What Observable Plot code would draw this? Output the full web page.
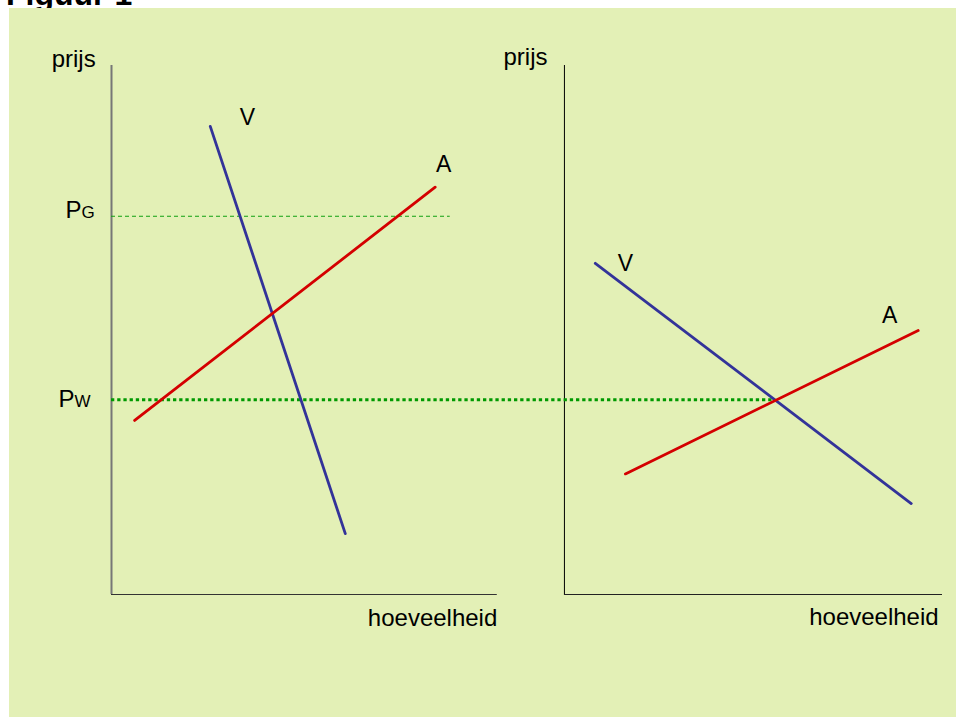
<!DOCTYPE html>
<html>
<head>
<meta charset="utf-8">
<script src="https://cdn.jsdelivr.net/npm/d3@7"></script>
<script src="https://cdn.jsdelivr.net/npm/@observablehq/plot@0.6"></script>
<style>
  html, body { margin: 0; padding: 0; background: #ffffff; }
  body { position: relative; width: 956px; height: 717px; overflow: hidden; font-family: "Liberation Sans", Arial, sans-serif; }
  #title { position: absolute; left: 6px; top: -22px; margin: 0; font-weight: bold; font-size: 32px; line-height: 32px; color: #000; white-space: nowrap; }
  #panel { position: absolute; left: 9px; top: 8px; right: 0; bottom: 0; background: #e3f0b6; }
  #chart { position: absolute; left: 0; top: 0; }
</style>
</head>
<body>
<div id="title">Figuur 1</div>
<div id="panel"></div>
<div id="chart"></div>
<script>
// ---- data (schematic units: quantity 0..100, price 0..100) ----
const panels = ["links", "rechts"];
const vraagLinks   = [[25.6, 88.5], [60.6, 11.5]];   // V, left diagram
const aanbodLinks  = [[6.0, 32.9], [83.9, 77.0]];    // A, left diagram
const vraagRechts  = [[8.0, 62.6], [89.9, 17.2]];    // V, right diagram
const aanbodRechts = [[15.8, 22.8], [91.7, 49.9]];   // A, right diagram
const prijsG = 71.5;          // PG
const prijsW = 36.8;          // PW
const pgEindeLinks = 87.8;    // end of PG line (left diagram quantity)
const pwEindeRechts = 54.1;   // end of PW line (right diagram quantity, intersection)
const curveLabels = [
  {panel: "links",  text: "V", q: 35.2, p: 88.7},
  {panel: "links",  text: "A", q: 86.1, p: 79.8},
  {panel: "rechts", text: "V", q: 15.8, p: 61.2},
  {panel: "rechts", text: "A", q: 84.3, p: 51.3}
];
const axisTitlesY = [
  {panel: "links",  text: "prijs", q: -9.8,  p: 99.8},
  {panel: "rechts", text: "prijs", q: -10.1, p: 100.1}
];
const axisTitlesX = [
  {panel: "links",  text: "hoeveelheid", q: 100.0, p: -5.9},
  {panel: "rechts", text: "hoeveelheid", q: 97.0,  p: -5.7}
];
const priceTickMain = [
  {text: "P", p: 71.2},
  {text: "P", p: 35.4}
];
const priceTickSub = [
  {text: "G", p: 71.2},
  {text: "W", p: 35.4}
];

// ---- layout ----
const offset = {links: 0, rechts: 117.4};
const axisLen = {links: 100, rechts: 98};
const tickMainDx = [-46, -53];
const tickSubDx = [-30, -37];
const font = "Liberation Sans, Arial, sans-serif";
const blue = "#333399", red = "#d40000";

const X = (panel) => (d) => offset[panel] + d[0];

const chart = Plot.plot({
  width: 956,
  height: 717,
  marginLeft: 111,
  marginRight: 14,
  marginTop: 65,
  marginBottom: 123,
  x: {domain: [0, offset.rechts + axisLen.rechts], axis: null},
  y: {domain: [0, 100], axis: null},
  style: {background: "transparent", overflow: "visible", fontFamily: font},
  marks: [
    // axes
    Plot.ruleX([offset.links], {y1: 0, y2: 100, stroke: "#777777", strokeWidth: 2}),
    Plot.ruleY([0], {x1: offset.links, x2: offset.links + axisLen.links, stroke: "#333333", strokeWidth: 1}),
    Plot.ruleX([offset.rechts], {y1: 0, y2: 100, stroke: "#000000", strokeWidth: 1}),
    Plot.ruleY([0], {x1: offset.rechts, x2: offset.rechts + axisLen.rechts, stroke: "#222222", strokeWidth: 1}),
    // price levels
    Plot.ruleY([prijsG], {x1: offset.links, x2: offset.links + pgEindeLinks, stroke: "#11a011", strokeWidth: 1, strokeDasharray: "4,3"}),
    Plot.ruleY([prijsW], {x1: offset.links, x2: offset.rechts + pwEindeRechts, stroke: "#009900", strokeWidth: 3, strokeDasharray: "3.3,2.9"}),
    // curves
    Plot.line(vraagLinks,   {x: X("links"),  y: d => d[1], stroke: blue, strokeWidth: 2.8}),
    Plot.line(aanbodLinks,  {x: X("links"),  y: d => d[1], stroke: red,  strokeWidth: 2.8}),
    Plot.line(vraagRechts,  {x: X("rechts"), y: d => d[1], stroke: blue, strokeWidth: 2.8}),
    Plot.line(aanbodRechts, {x: X("rechts"), y: d => d[1], stroke: red,  strokeWidth: 2.8}),
    // labels
    Plot.text(curveLabels, {x: d => offset[d.panel] + d.q, y: "p", text: "text", fontSize: 23, textAnchor: "middle", lineAnchor: "bottom", fill: "#000"}),
    Plot.text(axisTitlesY, {x: d => offset[d.panel] + d.q, y: "p", text: "text", fontSize: 24, textAnchor: "middle", lineAnchor: "bottom", fill: "#000"}),
    Plot.text(axisTitlesX, {x: d => offset[d.panel] + d.q, y: "p", text: "text", fontSize: 24, textAnchor: "end", lineAnchor: "bottom", fill: "#000"}),
    Plot.text([priceTickMain[0]], {x: () => offset.links, y: "p", dx: tickMainDx[0], text: "text", fontSize: 24, textAnchor: "start", lineAnchor: "bottom", fill: "#000"}),
    Plot.text([priceTickMain[1]], {x: () => offset.links, y: "p", dx: tickMainDx[1], text: "text", fontSize: 24, textAnchor: "start", lineAnchor: "bottom", fill: "#000"}),
    Plot.text([priceTickSub[0]], {x: () => offset.links, y: "p", dx: tickSubDx[0], text: "text", fontSize: 17, textAnchor: "start", lineAnchor: "bottom", fill: "#000"}),
    Plot.text([priceTickSub[1]], {x: () => offset.links, y: "p", dx: tickSubDx[1], text: "text", fontSize: 17, textAnchor: "start", lineAnchor: "bottom", fill: "#000"})
  ]
});
document.getElementById("chart").appendChild(chart);
</script>
</body>
</html>
